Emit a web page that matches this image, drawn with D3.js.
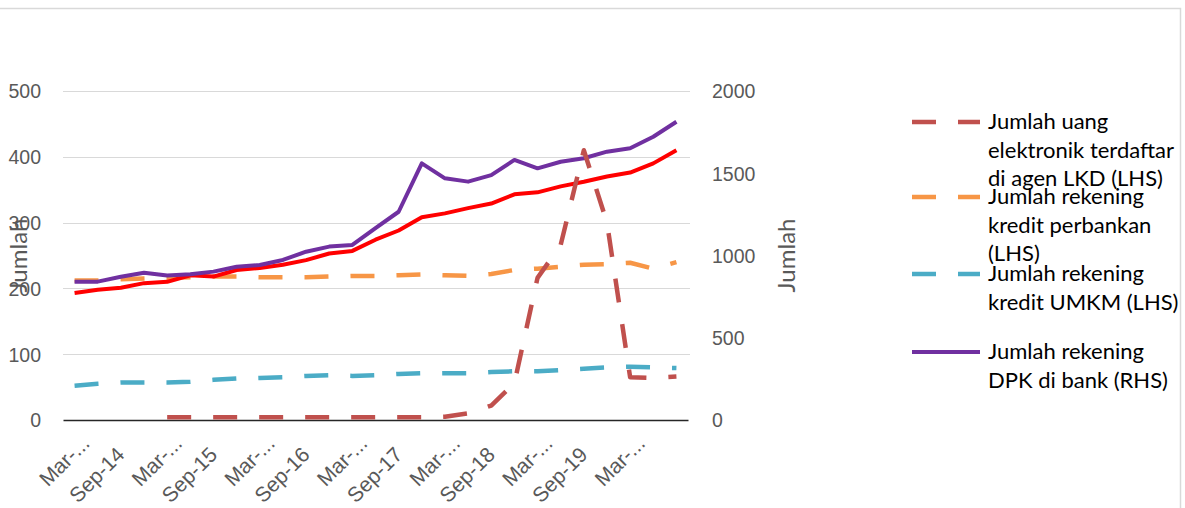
<!DOCTYPE html>
<html>
<head>
    <meta charset="utf-8">
    <title>Jumlah</title>
    <style>
    body { margin: 0; background: #fff; }
    svg.chart { display: block; font-family: Lato, "Noto Sans", sans-serif; }
    g.tick text { fill: #595959; }
    g.grid line { stroke: #d9d9d9; stroke-width: 1; shape-rendering: crispEdges; }
    path.line { fill: none; stroke-linejoin: round; }
    </style>
</head>
<body>
    <svg id="chart" class="chart" width="1185" height="508"></svg>
    <script src="https://d3js.org/d3.v7.min.js"></script>
    <script>
    // quarterly categories, Mar-14 .. Sep-20
    let categories = ['Mar-14', 'Jun-14', 'Sep-14', 'Dec-14', 'Mar-15', 'Jun-15', 'Sep-15', 'Dec-15',
        'Mar-16', 'Jun-16', 'Sep-16', 'Dec-16', 'Mar-17', 'Jun-17', 'Sep-17', 'Dec-17',
        'Mar-18', 'Jun-18', 'Sep-18', 'Dec-18', 'Mar-19', 'Jun-19', 'Sep-19', 'Dec-19',
        'Mar-20', 'Jun-20', 'Sep-20'];
    // labels as they show on the axis (every second category, long ones cut off)
    let tickLabels = {
        'Mar-14': 'Mar-...', 'Sep-14': 'Sep-14', 'Mar-15': 'Mar-...', 'Sep-15': 'Sep-15',
        'Mar-16': 'Mar-...', 'Sep-16': 'Sep-16', 'Mar-17': 'Mar-...', 'Sep-17': 'Sep-17',
        'Mar-18': 'Mar-...', 'Sep-18': 'Sep-18', 'Mar-19': 'Mar-...', 'Sep-19': 'Sep-19',
        'Mar-20': 'Mar-...'
    };
    let leftTicks = [0, 100, 200, 300, 400, 500];
    let rightTicks = [0, 500, 1000, 1500, 2000];

    let uangElektronik = [null, null, null, null, 4, 4, 4, 4, 4, 4, 4, 4, 4, 4, 4, 4,
        5, 10, 22, 56, 216, 266, 410, 300, 65, 64, 66];
    let kreditPerbankan = [212, 212, 214, 215, 216, 217, 218, 218, 217, 217, 217, 218, 219, 219, 220, 221,
        220, 219, 222, 228, 230, 233, 236, 237, 239, 230, 240];
    let kreditUmkm = [52, 55, 57, 57, 57, 58, 61, 63, 64, 65, 67, 68, 67, 68, 70, 71,
        71, 71, 73, 74, 74, 76, 78, 80, 81, 80, 79];
    let rekeningDpk = [841, 841, 871, 895, 878, 886, 902, 932, 942, 973, 1023, 1054, 1064, 1167, 1266, 1560,
        1469, 1449, 1489, 1581, 1530, 1570, 1591, 1631, 1652, 1722, 1813];
    let seriTanpaLegenda = [193, 198, 201, 208, 210, 220, 218, 228, 231, 236, 243, 253, 257, 274, 288, 308,
        314, 322, 329, 343, 346, 355, 362, 370, 376, 390, 410];

    let svg = d3.select('#chart');

    // outer frame
    svg.append('rect')
        .attr('x', -1).attr('y', 8.5)
        .attr('width', 1181.5).attr('height', 510)
        .attr('fill', 'none')
        .attr('stroke', '#d9d9d9')
        .attr('stroke-width', 1.5);

    let p_left = 63, p_right = 688, p_top = 91, p_bottom = 420;

    let x_scale = d3.scaleBand()
        .domain(categories)
        .range([p_left, p_right]);
    let cx = function(c) { return x_scale(c) + x_scale.bandwidth() / 2; };

    let y_left = d3.scaleLinear().domain([0, 500]).range([p_bottom, p_top]);
    let y_right = d3.scaleLinear().domain([0, 2000]).range([p_bottom, p_top]);

    // gridlines
    svg.append('g')
        .classed('grid', true)
        .selectAll('line')
        .data(leftTicks.slice(1))
        .enter()
        .append('line')
        .attr('x1', p_left).attr('x2', p_right + 2)
        .attr('y1', function(d) { return Math.round(y_left(d)) + 0.5; })
        .attr('y2', function(d) { return Math.round(y_left(d)) + 0.5; });

    // left axis
    let ax_left = svg.append('g')
        .attr('transform', 'translate(' + (p_left - 22) + ',0)')
        .call(d3.axisLeft(y_left).tickValues(leftTicks).tickSize(0).tickPadding(0));
    ax_left.select('path.domain').remove();
    ax_left.selectAll('text').style('font-size', '19.5px').attr('dy', '0.35em');

    // right axis
    let ax_right = svg.append('g')
        .attr('transform', 'translate(' + (p_right + 24) + ',0)')
        .call(d3.axisRight(y_right).tickValues(rightTicks).tickFormat(d3.format('d')).tickSize(0).tickPadding(0));
    ax_right.select('path.domain').remove();
    ax_right.selectAll('text').style('font-size', '19.5px').attr('dy', '0.35em');

    // bottom axis
    let ax_bottom = svg.append('g')
        .attr('transform', 'translate(0,' + p_bottom + ')')
        .call(d3.axisBottom(x_scale)
            .tickValues(Object.keys(tickLabels))
            .tickFormat(function(d) { return tickLabels[d]; })
            .tickSize(0));
    ax_bottom.select('path.domain')
        .attr('stroke', '#262626')
        .attr('stroke-width', 1.3);
    ax_bottom.selectAll('text')
        .style('font-size', '21px')
        .attr('text-anchor', 'end')
        .attr('y', 0)
        .attr('dy', 0)
        .attr('dx', function(d) { return tickLabels[d].indexOf('...') > 0 ? 16 : 0; })
        .attr('transform', 'translate(5,36) rotate(-45)');

    // axis titles
    svg.append('text')
        .attr('transform', 'translate(27,' + ((p_top + p_bottom) / 2) + ') rotate(-90)')
        .attr('text-anchor', 'middle')
        .style('font-size', '24px')
        .attr('fill', '#595959')
        .text('Jumlah');
    svg.append('text')
        .attr('transform', 'translate(795,' + ((p_top + p_bottom) / 2) + ') rotate(-90)')
        .attr('text-anchor', 'middle')
        .style('font-size', '24px')
        .attr('fill', '#595959')
        .text('Jumlah');

    let lineOf = function(values, scale) {
        return d3.line()
            .defined(function(d) { return d != null; })
            .x(function(d, i) { return cx(categories[i]); })
            .y(function(d) { return scale(d); })(values);
    };

    let series = [
        { values: kreditPerbankan, scale: y_left, color: '#f79646', dash: '24,22', width: 4.5 },
        { values: kreditUmkm, scale: y_left, color: '#4bacc6', dash: '24,22', width: 4.5 },
        { values: seriTanpaLegenda, scale: y_left, color: '#ff0000', dash: null, width: 4 },
        { values: rekeningDpk, scale: y_right, color: '#7030a0', dash: null, width: 4 },
        { values: uangElektronik, scale: y_left, color: '#c0504d', dash: '24,22', width: 4.5 },
    ];

    series.forEach(function(s) {
        svg.append('path')
            .classed('line', true)
            .attr('d', lineOf(s.values, s.scale))
            .attr('stroke', s.color)
            .attr('stroke-width', s.width)
            .attr('stroke-dasharray', s.dash);
    });

    // legend
    let legend = [
        { lines: ['Jumlah uang', 'elektronik terdaftar', 'di agen LKD (LHS)'], color: '#c0504d', dash: '24,22', y: 122 },
        { lines: ['Jumlah rekening', 'kredit perbankan', '(LHS)'], color: '#f79646', dash: '24,22', y: 197 },
        { lines: ['Jumlah rekening', 'kredit UMKM (LHS)'], color: '#4bacc6', dash: '24,22', y: 274 },
        { lines: ['Jumlah rekening', 'DPK di bank (RHS)'], color: '#7030a0', dash: null, y: 352 },
    ];
    let lg = svg.append('g');
    legend.forEach(function(e) {
        lg.append('line')
            .attr('x1', 912).attr('x2', 980)
            .attr('y1', e.y).attr('y2', e.y)
            .attr('stroke', e.color)
            .attr('stroke-width', e.dash ? 4.5 : 4)
            .attr('stroke-dasharray', e.dash);
        let t = lg.append('text')
            .attr('x', 988)
            .attr('y', e.y + 7)
            .style('font-size', '22px')
            .attr('fill', '#000');
        e.lines.forEach(function(l, i) {
            t.append('tspan')
                .attr('x', 988)
                .attr('dy', i == 0 ? 0 : 28.5)
                .text(l);
        });
    });
    </script>
</body>
</html>
